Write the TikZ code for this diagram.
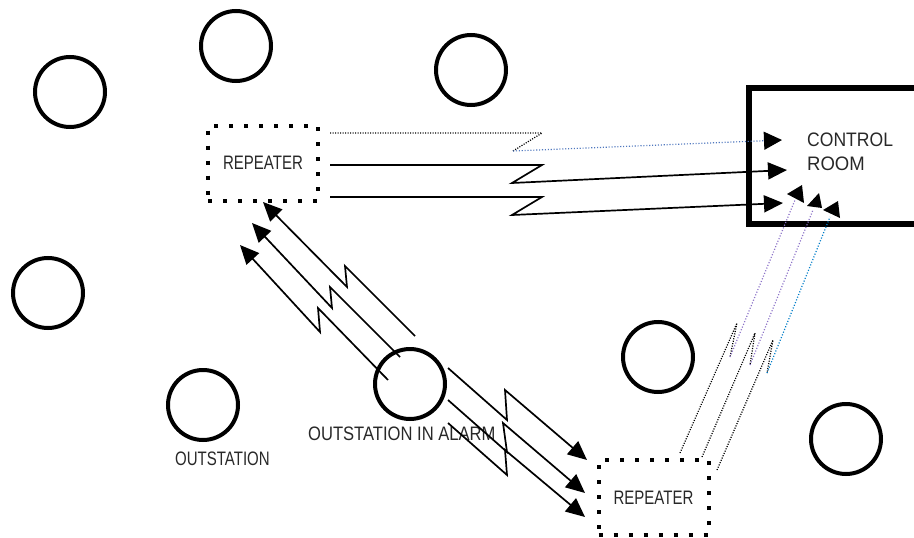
\documentclass[tikz,border=0pt]{standalone}
\usepackage{fontspec}
\setmainfont{Liberation Sans}
\usetikzlibrary{arrows.meta}
\definecolor{txt}{RGB}{40,40,40}
\definecolor{linkblue}{RGB}{80,120,190}
\definecolor{linkviolet}{RGB}{140,115,200}
\definecolor{linkcyan}{RGB}{0,125,200}
\newcommand\narrow[2]{\scalebox{#1}[1]{#2}}
\begin{document}
\begin{tikzpicture}[x=1pt,y=-1pt,
  station/.style={circle,draw,line width=4pt,minimum size=70pt,inner sep=0pt},
  repeaterbox/.style={draw,line width=4pt,dash pattern=on 4pt off 11pt,
    minimum width=110pt,minimum height=75pt,inner sep=0pt,
    font=\fontsize{19.5}{19.5}\selectfont,text=txt},
  txtlbl/.style={inner sep=0pt,anchor=base west,font=\fontsize{19.5}{19.5}\selectfont,text=txt},
  radio/.style={line width=1.7pt,line join=miter,-{Triangle[length=19pt,width=17pt]}},
  fineblack/.style={line width=1.2pt,dash pattern=on 1.1pt off 1.4pt},
  finecol/.style={line width=1.2pt,dash pattern=on 1.1pt off 1.8pt},
  headfill/.style={fill=black}
]
\path[use as bounding box] (0,0) rectangle (914,538);

% outstations
\node[station] (o1) at (70,92) {};
\node[station] (o2) at (236,46) {};
\node[station] (o3) at (471,70) {};
\node[station] (o4) at (48,293) {};
\node[station] (o5) at (203,405) {};
\node[station] (alarm) at (410,384) {};
\node[station] (o7) at (658,357) {};
\node[station] (o8) at (846,439) {};

% repeaters
\node[repeaterbox] (rep1) at (263,163) {\narrow{0.77}{REPEATER}};
\node[repeaterbox] (rep2) at (653.5,497.5) {\narrow{0.77}{REPEATER}};

% control room: open on the right, it runs on past the edge
\coordinate (ctrl) at (749,88);
\coordinate (ctrlne) at (914,88);
\coordinate (ctrlse) at (914,224);
\draw[line width=5.5pt,line join=miter,line cap=butt] (ctrlne) -- (ctrl) -- (749,224) -- (ctrlse);

% captions
\node[txtlbl] (ctrltxt) at (807,146) {\narrow{0.9}{CONTROL}};
\node[txtlbl] (roomtxt) at (807,170) {\narrow{0.95}{ROOM}};
\node[txtlbl] (outtxt) at (175,465) {\narrow{0.77}{OUTSTATION}};
\node[txtlbl] (alarmtxt) at (308,440) {\narrow{0.85}{OUTSTATION IN ALARM}};

% repeater -> control room
\coordinate (u0) at (330,133); \coordinate (u1) at (542,133);
\coordinate (u2) at (513,151); \coordinate (u3) at (782,140);
\draw[fineblack] (u0) -- (u1) -- (u2);
\draw[finecol,linkblue,-{Triangle[length=18pt,width=18pt,color=black]}] (u2) -- (u3);

\coordinate (m0) at (330,165); \coordinate (m1) at (542,165);
\coordinate (m2) at (512,183); \coordinate (m3) at (787,170);
\draw[radio] (m0) -- (m1) -- (m2) -- (m3);

\coordinate (l0) at (330,197); \coordinate (l1) at (542,197);
\coordinate (l2) at (512,215); \coordinate (l3) at (783,203);
\draw[radio] (l0) -- (l1) -- (l2) -- (l3);

% outstation in alarm -> upper repeater
\coordinate (a0) at (415,336); \coordinate (a1) at (345,266);
\coordinate (a2) at (347,287); \coordinate (a3) at (263,202);
\draw[radio] (a0) -- (a1) -- (a2) -- (a3);
\coordinate (b0) at (400,357); \coordinate (b1) at (330,287);
\coordinate (b2) at (332,308); \coordinate (b3) at (252,223);
\draw[radio] (b0) -- (b1) -- (b2) -- (b3);
\coordinate (c0) at (388,380); \coordinate (c1) at (318,308);
\coordinate (c2) at (320,332); \coordinate (c3) at (240,245);
\draw[radio] (c0) -- (c1) -- (c2) -- (c3);

% outstation in alarm -> lower repeater
\coordinate (d0) at (448,368); \coordinate (d1) at (507,420);
\coordinate (d2) at (505,390); \coordinate (d3) at (587,460);
\draw[radio] (d0) -- (d1) -- (d2) -- (d3);
\coordinate (e0) at (448,400); \coordinate (e1) at (507,452);
\coordinate (e2) at (503,423); \coordinate (e3) at (585,493);
\draw[radio] (e0) -- (e1) -- (e2) -- (e3);
\coordinate (f0) at (448,423); \coordinate (f1) at (507,475);
\coordinate (f2) at (505,450); \coordinate (f3) at (585,517);
\draw[radio] (f0) -- (f1) -- (f2) -- (f3);

% lower repeater -> control room
\coordinate (p0) at (680,453); \coordinate (p1) at (737,323);
\coordinate (p2) at (730,357); \coordinate (p3) at (795,200);
\draw[fineblack] (p0) -- (p1) -- (p2);
\draw[finecol,linkviolet] (p2) -- (p3);
\coordinate (q0) at (702,457); \coordinate (q1) at (755,333);
\coordinate (q2) at (750,365); \coordinate (q3) at (813,210);
\draw[fineblack] (q0) -- (q1) -- (q2);
\draw[finecol,linkviolet] (q2) -- (q3);
\coordinate (r0) at (717,470); \coordinate (r1) at (773,340);
\coordinate (r2) at (767,373); \coordinate (r3) at (830,217);
\draw[fineblack] (r0) -- (r1) -- (r2);
\draw[finecol,linkcyan] (r2) -- (r3);

% incoming heads at the control room
\fill[headfill] (787,194) -- (802,185) -- (804,203) -- cycle;
\fill[headfill] (807,206) -- (819,193) -- (822,208) -- cycle;
\fill[headfill] (823,210) -- (838,201) -- (840,218) -- cycle;
\end{tikzpicture}
\end{document}
